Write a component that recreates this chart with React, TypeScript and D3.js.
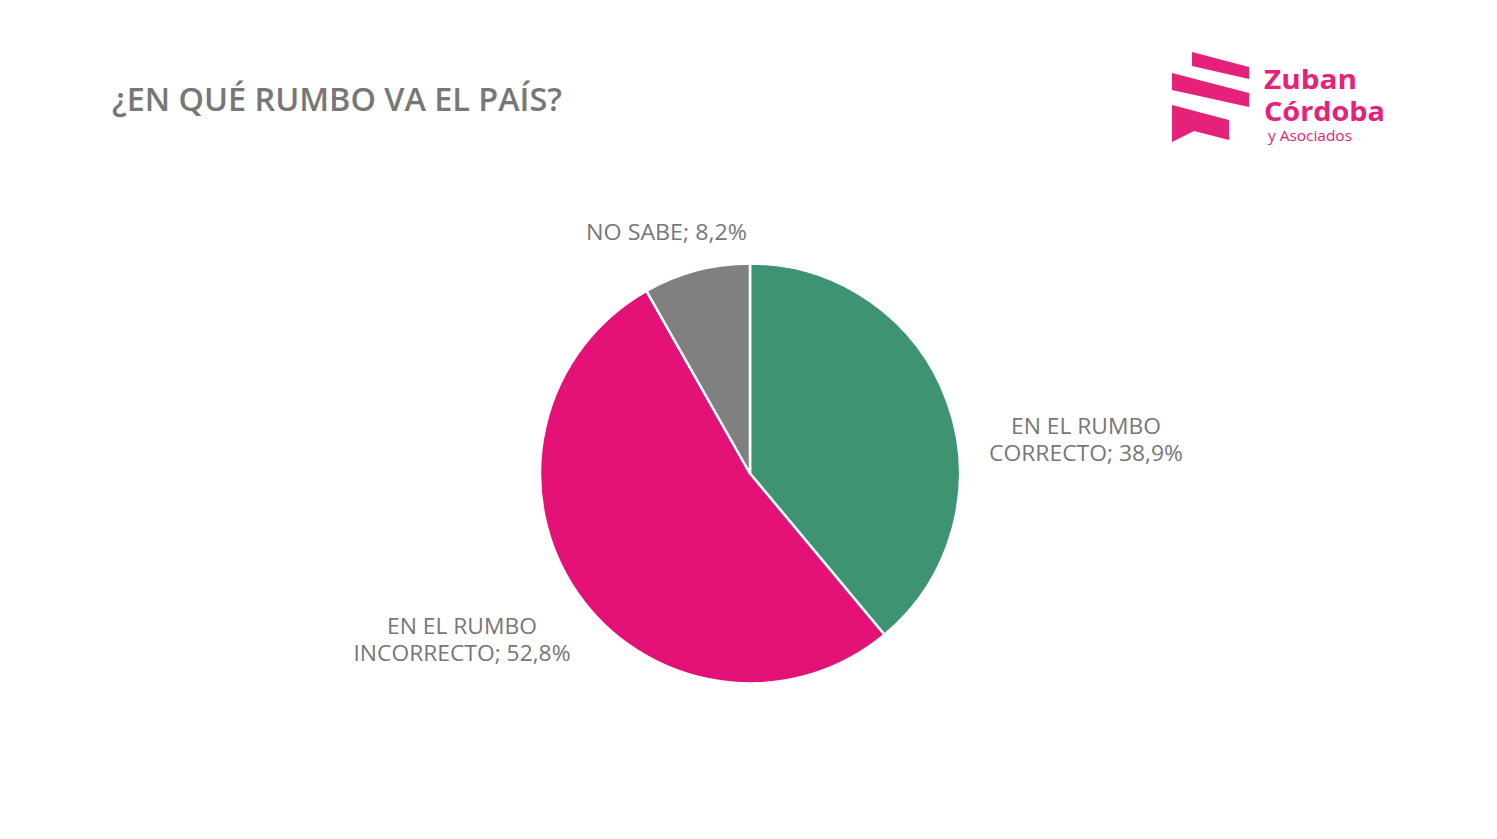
import React from "react";
import * as d3 from "d3";

const categories = ["EN EL RUMBO CORRECTO", "EN EL RUMBO INCORRECTO", "NO SABE"];
const values = [38.9, 52.8, 8.2];
const colors = ["#3E9373", "#E41276", "#808080"];
const labelLines = [
  ["EN EL RUMBO", "CORRECTO; 38,9%"],
  ["EN EL RUMBO", "INCORRECTO; 52,8%"],
  ["NO SABE; 8,2%"],
];

const W = 1497, H = 839;
const cx = 750, cy = 473.5, R = 210;
const textColor = "#777777";
const font = "'Open Sans', 'DejaVu Sans', sans-serif";

// label anchor positions (centers) and widths
const labelPos = [
  { x: 1086, y: 434, widths: [150, 194] },
  { x: 462, y: 634, widths: [150, 217] },
  { x: 666.5, y: 240, widths: [161] },
];

export default function App() {
  const pie = d3.pie<number>().value((d) => d).sort(null);
  const arcs = pie(values);
  const arcGen = d3.arc<d3.PieArcDatum<number>>().innerRadius(0).outerRadius(R);
  return (
    <svg width={W} height={H} style={{ position: "absolute", left: 0, top: 0, background: "#fff" }}>
      <rect width={W} height={H} fill="#fff" />
      <text x={112} y={111} fontFamily={font} fontWeight={600} fontSize={32} fill={textColor} textLength={450} lengthAdjust="spacingAndGlyphs">
        ¿EN QUÉ RUMBO VA EL PAÍS?
      </text>
      <g transform={`translate(${cx},${cy})`}>
        {arcs.map((a, i) => (
          <path key={categories[i]} d={arcGen(a) || ""} fill={colors[i]} stroke="#fff" strokeWidth={2.5} strokeLinejoin="round" />
        ))}
      </g>
      {labelLines.map((lines, i) =>
        lines.map((ln, j) => (
          <text key={i + "-" + j} x={labelPos[i].x} y={labelPos[i].y + j * 27} textAnchor="middle" fontFamily={font}
            fontSize={21} fill={textColor} textLength={labelPos[i].widths[j]} lengthAdjust="spacingAndGlyphs">
            {ln}
          </text>
        ))
      )}
      {/* logo */}
      <g fill="#E6217A">
        <polygon points="1192,52 1249,67 1249,79 1192,66" />
        <polygon points="1172,73 1249,93 1249,107 1172,90" />
        <polygon points="1172,105 1229,120 1229,140 1194,131 1172,142" />
      </g>
      <text x={1264} y={89} fontFamily="'Open Sans', sans-serif" fontWeight="bold" fontSize={27} fill="#E6217A" textLength={93} lengthAdjust="spacingAndGlyphs">Zuban</text>
      <text x={1264} y={121} fontFamily="'Open Sans', sans-serif" fontWeight="bold" fontSize={27} fill="#E6217A" textLength={121} lengthAdjust="spacingAndGlyphs">Córdoba</text>
      <text x={1268} y={141} fontFamily="'Open Sans', sans-serif" fontSize={14} fill="#E6217A" textLength={84} lengthAdjust="spacingAndGlyphs">y Asociados</text>
    </svg>
  );
}
